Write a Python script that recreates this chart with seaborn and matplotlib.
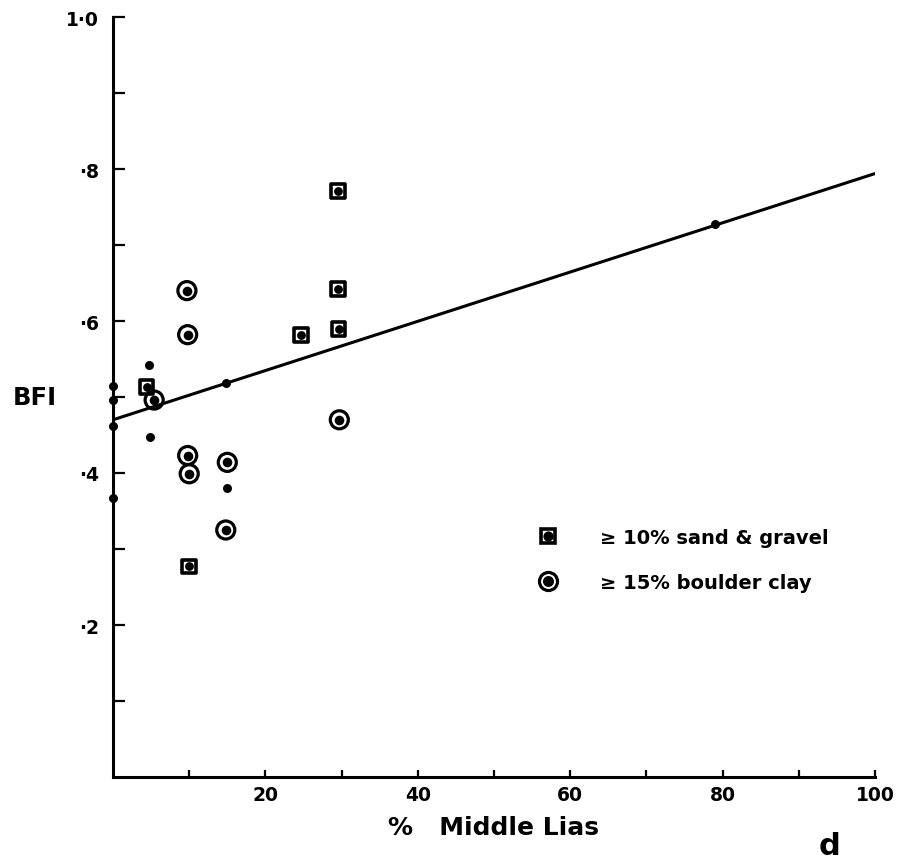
import matplotlib
matplotlib.use("Agg")
import matplotlib.pyplot as plt
import seaborn as sns
from matplotlib.lines import Line2D

# ---- data ----
# plain catchments (filled dots only)
x_dot = [0, 0, 0, 0, 4.7, 4.9, 14.8, 14.9, 79.0]
y_dot = [0.515, 0.496, 0.462, 0.367, 0.542, 0.448, 0.519, 0.380, 0.728]

# >= 10% sand & gravel (square with dot)
x_sand = [4.4, 10.0, 24.7, 29.6, 29.5, 29.5]
y_sand = [0.513, 0.277, 0.582, 0.589, 0.642, 0.771]

# >= 15% boulder clay (ring with dot)
x_clay = [9.7, 9.8, 9.8, 10.0, 15.0, 14.8, 29.7, 5.4]
y_clay = [0.640, 0.582, 0.423, 0.399, 0.414, 0.325, 0.470, 0.496]

# regression line end points
line_x = [0, 100]
line_y = [0.470, 0.794]

x_ticks = [10, 20, 30, 40, 50, 60, 70, 80, 90, 100]
x_tick_labels = ["", "20", "", "40", "", "60", "", "80", "", "100"]
y_ticks = [0.1, 0.2, 0.3, 0.4, 0.5, 0.6, 0.7, 0.8, 0.9, 1.0]
y_tick_labels = ["", "·2", "", "·4", "", "·6", "", "·8", "", "1·0"]

legend_labels = ["≥ 10% sand & gravel", "≥ 15% boulder clay"]

# ---- style ----
sns.set_theme(style="ticks")
plt.rcParams["font.family"] = ["DejaVu Sans"]
plt.rcParams["font.weight"] = "bold"
plt.rcParams["text.color"] = "black"
plt.rcParams["axes.labelcolor"] = "black"

fig = plt.figure(figsize=(9.01, 8.62), dpi=100)
fig.patch.set_facecolor("white")
ax = fig.add_axes([113 / 901, 84 / 862, 762 / 901, 760 / 862])
ax.set_facecolor("white")

sns.lineplot(x=line_x, y=line_y, color="black", linewidth=2.2, ax=ax)

# plain dots
sns.scatterplot(x=x_dot, y=y_dot, s=42, color="black", edgecolor="black",
                linewidth=0, marker="o", clip_on=False, legend=False, ax=ax, zorder=5)

# squares
sns.scatterplot(x=x_sand, y=y_sand, s=100, marker="s", facecolor="none",
                edgecolor="black", linewidth=2.6, clip_on=False, legend=False, ax=ax, zorder=5)
sns.scatterplot(x=x_sand, y=y_sand, s=40, marker="o", color="black",
                edgecolor="black", linewidth=0, clip_on=False, legend=False, ax=ax, zorder=6)

# rings
sns.scatterplot(x=x_clay, y=y_clay, s=169, marker="o", facecolor="none",
                edgecolor="black", linewidth=2.3, clip_on=False, legend=False, ax=ax, zorder=5)
sns.scatterplot(x=x_clay, y=y_clay, s=48, marker="o", color="black",
                edgecolor="black", linewidth=0, clip_on=False, legend=False, ax=ax, zorder=6)

ax.set_xlim(0, 100)
ax.set_ylim(0, 1.0)

ax.set_xticks(x_ticks)
ax.set_xticklabels(x_tick_labels)
ax.set_yticks(y_ticks)
ax.set_yticklabels(y_tick_labels)

for s in ["top", "right"]:
    ax.spines[s].set_visible(False)
for s in ["left", "bottom"]:
    ax.spines[s].set_linewidth(2.2)
    ax.spines[s].set_color("black")

ax.tick_params(axis="x", direction="in", length=5, width=1.6, pad=6,
               labelsize=13.5, colors="black")
ax.tick_params(axis="y", direction="in", length=8.5, width=1.6, pad=10,
               labelsize=13.5, colors="black")
for lab in ax.get_xticklabels() + ax.get_yticklabels():
    lab.set_fontweight("bold")

ax.set_xlabel("%   Middle Lias", fontsize=18, fontweight="bold", labelpad=8, color="black")
ax.set_ylabel("BFI", fontsize=17.5, fontweight="bold", rotation=0,
              ha="center", va="center", color="black")
ax.yaxis.set_label_coords(-0.1024, 0.5)

# legend
sq = Line2D([], [], marker="s", ls="none", mfc="none", mec="black", ms=10, mew=2.6)
sq_dot = Line2D([], [], marker="o", ls="none", color="black", ms=6.3)
ring = Line2D([], [], marker="o", ls="none", mfc="none", mec="black", ms=13, mew=2.3)
ring_dot = Line2D([], [], marker="o", ls="none", color="black", ms=6.9)
ax.legend([(sq, sq_dot), (ring, ring_dot)], legend_labels,
          loc="upper left", bbox_to_anchor=(0.558, 0.328), frameon=False,
          prop=dict(size=14, weight="bold"), labelcolor="black", handlelength=1.0,
          handletextpad=2.2, labelspacing=1.35, borderpad=0, borderaxespad=0)

fig.text(830 / 901, 1 - 847 / 862, "d", ha="center", va="center",
         fontsize=22, fontweight="bold", color="black")

fig.savefig("out.png", dpi=100, facecolor="white")
